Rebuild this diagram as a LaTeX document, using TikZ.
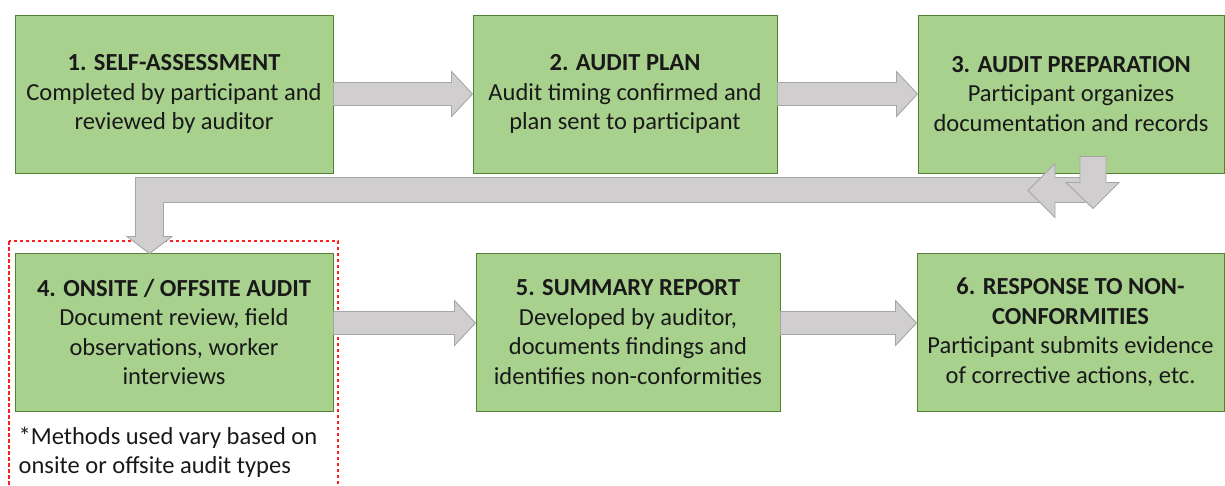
\documentclass[tikz,border=0pt]{standalone}
\usepackage{fontspec}
\setmainfont{Carlito}
\usetikzlibrary{calc}
\definecolor{boxfill}{RGB}{169,209,142}
\definecolor{boxedge}{RGB}{84,130,53}
\definecolor{arrowfill}{RGB}{208,206,206}
\definecolor{arrowedge}{RGB}{166,166,166}
\definecolor{notered}{RGB}{255,30,30}

\tikzset{
  stepbox/.style={draw=boxedge, fill=boxfill, line width=1pt, minimum width=318pt,
    minimum height=158pt, align=center, inner sep=0pt, text=black!90,
    font=\fontsize{24.5}{29.5}\selectfont},
  blockarrow/.style={draw=arrowedge, fill=arrowfill, line width=0.9pt, line join=miter},
}

% block arrow from #1.east to #2.west, #3 = vertical offset
\newcommand{\rightblock}[3]{%
  \filldraw[blockarrow] let \p1=($(#1.east)+(0,#3)$), \p2=(#2.west) in
    (\x1,\y1+11.5pt) -- (\x2-21pt,\y1+11.5pt) -- (\x2-21pt,\y1+22.5pt) -- (\x2,\y1)
    -- (\x2-21pt,\y1-22.5pt) -- (\x2-21pt,\y1-11.5pt) -- (\x1,\y1-11.5pt) -- cycle;}

\begin{document}
\begin{tikzpicture}[x=1pt, y=1pt]

        \useasboundingbox (0,0) rectangle (1225,-485);

        % note frame
        \draw[notered, dash pattern=on 3.5pt off 2.5pt, line width=1.1pt] (9,-241) rectangle (338,-495);

        \node[stepbox] (s1) at (174,-94) {\textbf{1. SELF-ASSESSMENT}\\Completed by participant and\\reviewed by auditor};
        \node[stepbox, minimum width=304pt] (s2) at (625,-94) {\textbf{2. AUDIT PLAN}\\Audit timing confirmed and\\plan sent to participant};
        \node[stepbox, minimum width=306pt] (s3) at (1071,-94) {\textbf{3. AUDIT PREPARATION}\\Participant organizes\\documentation and records};

        \node[stepbox] (s4) at (174,-332) {\textbf{4. ONSITE / OFFSITE AUDIT}\\Document review, field\\observations, worker\\interviews};
        \node[stepbox, minimum width=304pt] (s5) at (628,-332) {\textbf{5. SUMMARY REPORT}\\Developed by auditor,\\documents findings and\\identifies non-conformities};
        \node[stepbox, minimum width=307pt] (s6) at (1070.5,-332) {\textbf{6. RESPONSE TO NON-}\\\textbf{CONFORMITIES}\\Participant submits evidence\\of corrective actions, etc.};

        \node[anchor=north west, align=left, inner sep=0pt, text=black!90, font=\fontsize{24.5}{29.5}\selectfont] (note) at ($(s4.south west)+(4,-15)$) {*Methods used vary based on\\onsite or offsite audit types};

        % arrows along the rows
        \rightblock{s1}{s2}{0}
        \rightblock{s2}{s3}{0}
        \rightblock{s4}{s5}{9}
        \rightblock{s5}{s6}{9}

        % return arrow from 3 to 4
        \coordinate (barR) at ($(s3.south)+(14,-4)$);
        \coordinate (bendtip) at ($(s4.north)+(-24.5,-1)$);
        \filldraw[blockarrow] (barR) -- ($(bendtip |- barR)+(-14,0)$) -- ($(bendtip)+(-14,17)$)
          -- ($(bendtip)+(-22.5,17)$) -- (bendtip) -- ($(bendtip)+(22.5,17)$) -- ($(bendtip)+(14,17)$)
          -- ($(bendtip |- barR)+(14,-25)$) -- ($(barR)+(0,-25)$) -- cycle;
        \filldraw[blockarrow] (barR) -- ++(-30,0) -- ++(0,14) -- ++(-27,-27) -- ++(27,-27)
          -- ++(0,15) -- ++(30,0) -- cycle;
        \filldraw[blockarrow] ($(s3.south)+(9,17)$) -- ++(26,0) -- ++(0,-26) -- ++(13,0)
          -- ++(-26,-26) -- ++(-27,26) -- ++(14,0) -- cycle;

\end{tikzpicture}
\end{document}
